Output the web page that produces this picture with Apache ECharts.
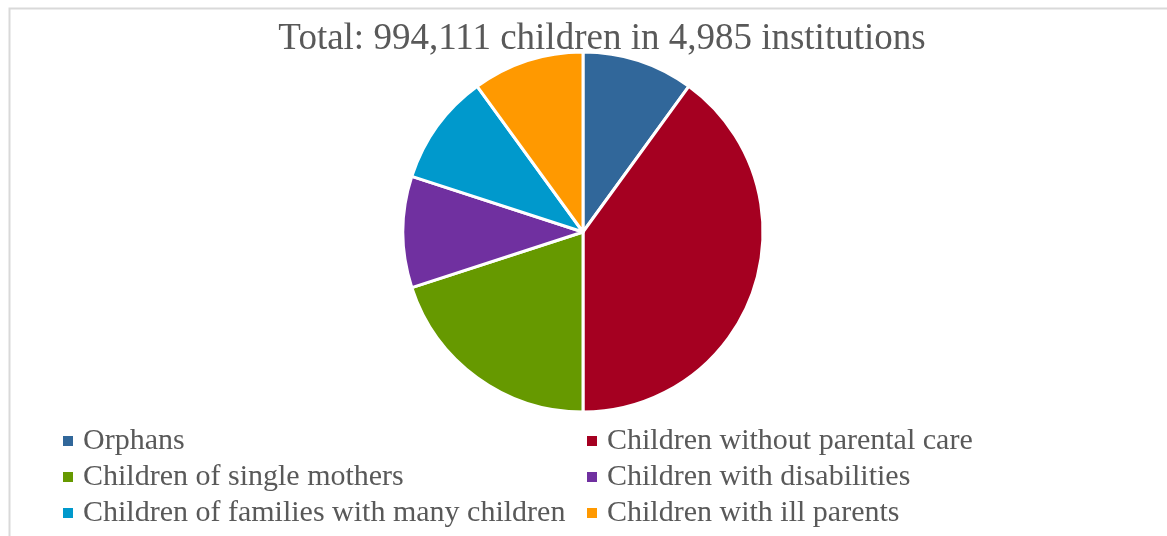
<!DOCTYPE html>
<html>
<head>
<meta charset="utf-8">
<script src="https://cdn.jsdelivr.net/npm/echarts@6/dist/echarts.min.js"></script>
<style>
  html, body { margin: 0; padding: 0; background: #fff; }
  #chart { width: 1167px; height: 536px; }
</style>
</head>
<body>
<div id="chart"></div>
<script>
const categories = [
  'Orphans',
  'Children without parental care',
  'Children of single mothers',
  'Children with disabilities',
  'Children of families with many children',
  'Children with ill parents'
];
const shares = [10, 40, 20, 10, 10, 10];
const colors = ['#31679A', '#A50021', '#669900', '#7030A0', '#0099CC', '#FF9900'];

const chart = echarts.init(document.getElementById('chart'));
const font = 'Liberation Serif';
const legendText = { fontFamily: font, fontSize: 30, lineHeight: 28, color: '#595959', padding: [0, 0, 0, 4] };

const option = {
  animation: false,
  color: colors,
  title: {
    text: 'Total: 994,111 children in 4,985 institutions',
    left: 597,
    textAlign: 'center',
    top: 16,
    textStyle: { fontFamily: font, fontSize: 37, fontWeight: 'normal', color: '#595959' }
  },
  graphic: [{
    type: 'rect',
    shape: { x: 9.5, y: 8.5, width: 1200, height: 600 },
    style: { fill: 'none', stroke: '#d9d9d9', lineWidth: 2 },
    silent: true
  }],
  legend: [
    {
      orient: 'vertical', left: 56, top: 421, height: 140, width: 520,
      itemWidth: 12, itemHeight: 12, itemGap: 6, icon: 'rect',
      data: [categories[0], categories[2], categories[4]],
      textStyle: legendText
    },
    {
      orient: 'vertical', left: 580, top: 421, height: 140, width: 520,
      itemWidth: 12, itemHeight: 12, itemGap: 6, icon: 'rect',
      data: [categories[1], categories[3], categories[5]],
      textStyle: legendText
    }
  ],
  series: [{
    type: 'pie',
    center: [583, 232],
    radius: 180,
    startAngle: 90,
    clockwise: true,
    label: { show: false },
    labelLine: { show: false },
    itemStyle: { borderColor: '#fff', borderWidth: 3 },
    data: categories.map((name, i) => ({ name: name, value: shares[i] }))
  }]
};

chart.setOption(option);
</script>
</body>
</html>
